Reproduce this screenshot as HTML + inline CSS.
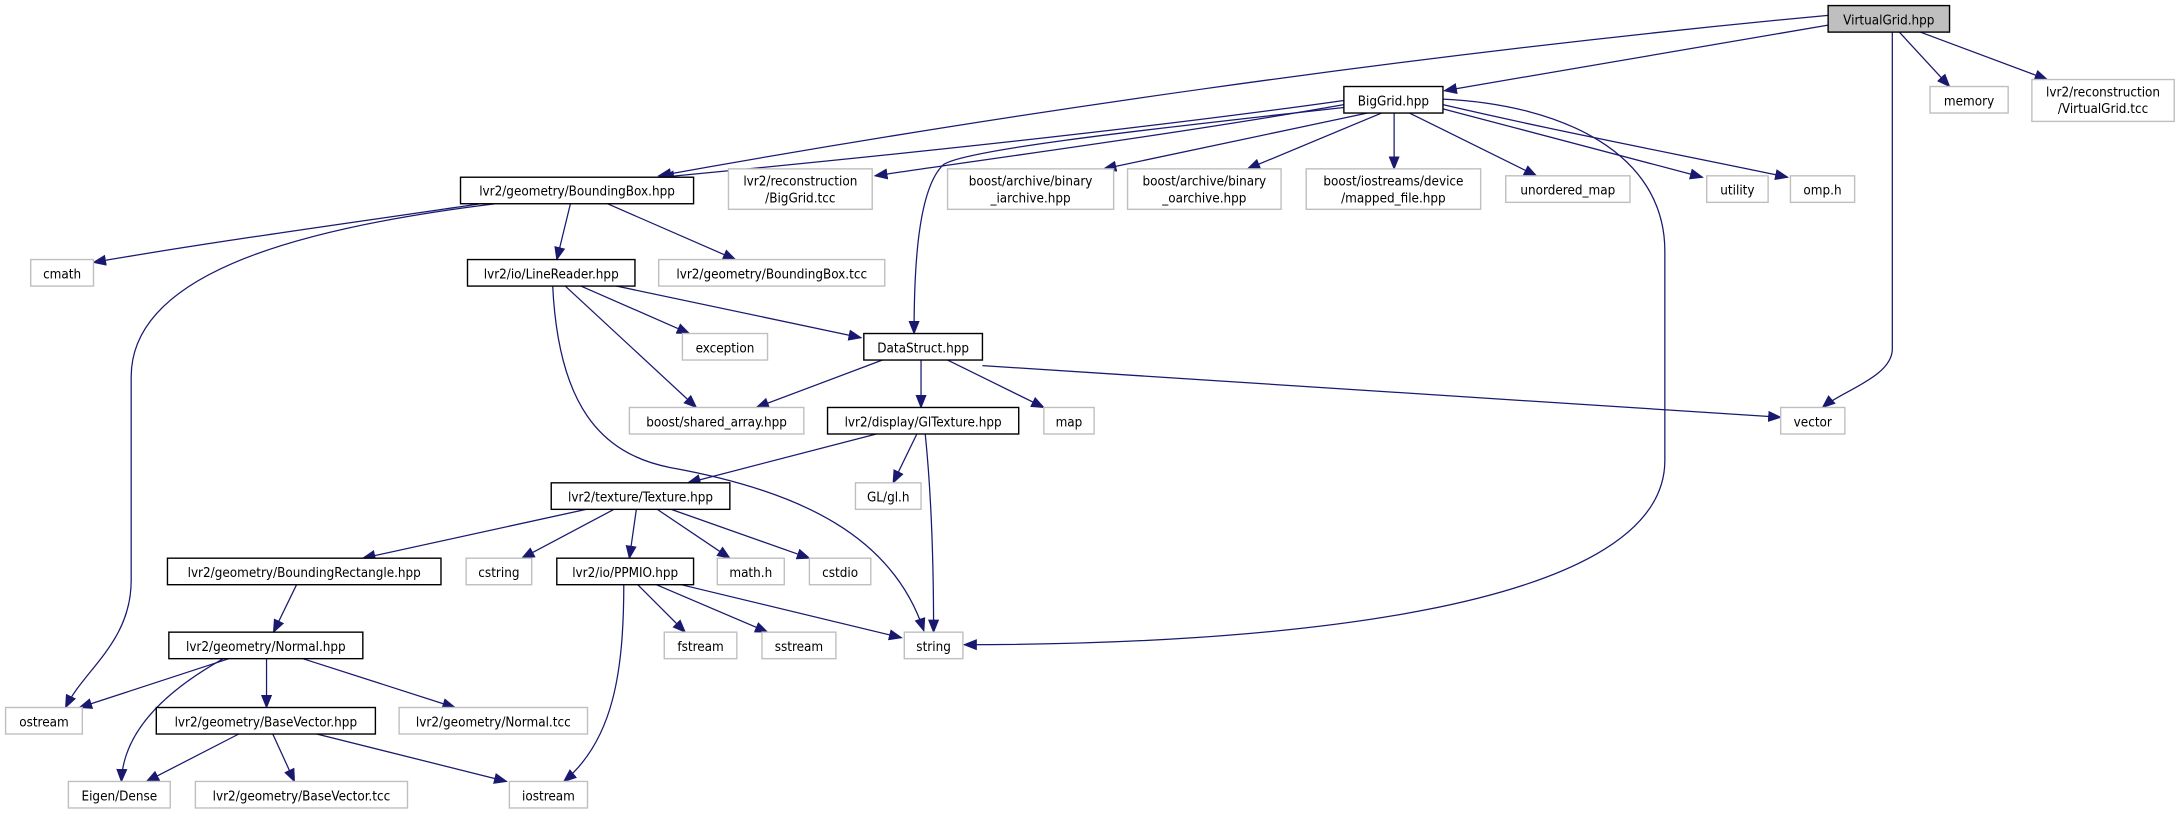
<!DOCTYPE html>
<html><head><meta charset="utf-8"><style>
html,body{margin:0;padding:0;background:#fff;}
svg{display:block;}
text{font-family:"DejaVu Sans Condensed","DejaVu Sans","Liberation Sans",sans-serif;font-size:9.6px;fill:#000;text-anchor:middle;}
.g{fill:#fff;stroke:#bfbfbf;stroke-width:1;}
.b{fill:#fff;stroke:#000;stroke-width:1;}
.e{fill:none;stroke:#191970;stroke-width:0.9;marker-end:url(#a);}
</style></head><body>
<svg width="2177" height="813" viewBox="0 0 1560 582.6" preserveAspectRatio="none" xmlns="http://www.w3.org/2000/svg">
<defs><marker id="a" markerWidth="10" markerHeight="8" refX="9" refY="4" orient="auto" markerUnits="userSpaceOnUse"><path d="M0,0 L10,4 L0,8 z" fill="#191970"/></marker></defs>

<!-- edges -->
<path class="e" d="M1310,11 C1000,40 700,85 472,126"/>
<path class="e" d="M1310,18 L1035,65"/>
<path class="e" d="M1361,23 L1397,62"/>
<path class="e" d="M1376,23 L1467,57"/>
<path class="e" d="M1356,23 L1356,250 C1356,270 1320,280 1306,292"/>

<path class="e" d="M963,72 C800,95 600,115 474,127"/>
<path class="e" d="M963,75 C850,95 700,115 627,126"/>
<path class="e" d="M963,77 C800,95 690,108 676,118 C658,135 655,190 655,239"/>
<path class="e" d="M980,81 L791,121"/>
<path class="e" d="M990,81 L894,121"/>
<path class="e" d="M999,81 L999,121"/>
<path class="e" d="M1010,81 L1101,126"/>
<path class="e" d="M1034,78 L1220,127"/>
<path class="e" d="M1034,75 C1120,95 1200,110 1281,127"/>
<path class="e" d="M1034,71 C1120,75 1193,110 1193,180 L1193,330 C1193,440 900,462 691,462"/>

<path class="e" d="M351,145 C250,160 160,172 67,188"/>
<path class="e" d="M355,146 C200,165 94,200 94,270 L94,416 C94,460 60,480 47,507"/>
<path class="e" d="M409,145 L399,186"/>
<path class="e" d="M433,145 L527,186"/>

<path class="e" d="M414,204 L494,239"/>
<path class="e" d="M437,204 L617,242"/>
<path class="e" d="M404,204 L499,292"/>
<path class="e" d="M396,204 C400,290 430,325 480,335 C575,352 640,385 662,452"/>

<path class="e" d="M635,257 L542,292"/>
<path class="e" d="M660,257 L660,292"/>
<path class="e" d="M677,257 L748,292"/>
<path class="e" d="M704,262 L1276,299"/>

<path class="e" d="M628,311 L493,346"/>
<path class="e" d="M657,311 L640,346"/>
<path class="e" d="M663,311 C668,360 669,410 669,453"/>

<path class="e" d="M420,365 L260,400"/>
<path class="e" d="M440,365 L374,400"/>
<path class="e" d="M456,365 L451,400"/>
<path class="e" d="M471,365 L523,400"/>
<path class="e" d="M481,365 L580,400"/>

<path class="e" d="M213,418 L196,453"/>

<path class="e" d="M456,418 L491,453"/>
<path class="e" d="M468,418 L550,453"/>
<path class="e" d="M484,418 L646,457"/>
<path class="e" d="M447,418 C447,480 440,530 404,560"/>

<path class="e" d="M164,472 L57,507"/>
<path class="e" d="M160,472 C110,500 88,530 87,560"/>
<path class="e" d="M191,472 L191,507"/>
<path class="e" d="M217,472 L326,507"/>

<path class="e" d="M173,525 L105,560"/>
<path class="e" d="M195,525 L211,560"/>
<path class="e" d="M223,525 L363,560"/>

<!-- nodes -->
<rect x="1310" y="4" width="87" height="19" fill="#bfbfbf" stroke="#000"/><text x="1353.5" y="17.5">VirtualGrid.hpp</text>
<rect class="b" x="963" y="62" width="71" height="19"/><text x="998.5" y="75.5">BigGrid.hpp</text>
<rect class="g" x="1383" y="62" width="56" height="19"/><text x="1411" y="75.5">memory</text>
<rect class="g" x="1456" y="57" width="102" height="30"/><text x="1507" y="69">lvr2/reconstruction</text><text x="1507" y="81">/VirtualGrid.tcc</text>

<rect class="b" x="330" y="127" width="167" height="19"/><text x="413.5" y="140">lvr2/geometry/BoundingBox.hpp</text>
<rect class="g" x="522" y="121" width="103" height="29"/><text x="573.5" y="133">lvr2/reconstruction</text><text x="573.5" y="145">/BigGrid.tcc</text>
<rect class="g" x="679" y="121" width="119" height="29"/><text x="738.5" y="133">boost/archive/binary</text><text x="738.5" y="145">_iarchive.hpp</text>
<rect class="g" x="808" y="121" width="110" height="29"/><text x="863" y="133">boost/archive/binary</text><text x="863" y="145">_oarchive.hpp</text>
<rect class="g" x="936" y="121" width="125" height="29"/><text x="998.5" y="133">boost/iostreams/device</text><text x="998.5" y="145">/mapped_file.hpp</text>
<rect class="g" x="1079" y="126" width="89" height="19"/><text x="1123.5" y="139.5">unordered_map</text>
<rect class="g" x="1223" y="126" width="44" height="19"/><text x="1245" y="139.5">utility</text>
<rect class="g" x="1283" y="126" width="46" height="19"/><text x="1306" y="139.5">omp.h</text>

<rect class="g" x="22" y="186" width="45" height="19"/><text x="44.5" y="199.5">cmath</text>
<rect class="b" x="335" y="186" width="120" height="19"/><text x="395" y="199.5">lvr2/io/LineReader.hpp</text>
<rect class="g" x="472" y="186" width="162" height="19"/><text x="553" y="199.5">lvr2/geometry/BoundingBox.tcc</text>

<rect class="g" x="489" y="239" width="61" height="19"/><text x="519.5" y="252.5">exception</text>
<rect class="b" x="619" y="239" width="85" height="19"/><text x="661.5" y="252.5">DataStruct.hpp</text>

<rect class="g" x="451" y="292" width="125" height="19"/><text x="513.5" y="305.5">boost/shared_array.hpp</text>
<rect class="b" x="593" y="292" width="137" height="19"/><text x="661.5" y="305.5">lvr2/display/GlTexture.hpp</text>
<rect class="g" x="748" y="292" width="36" height="19"/><text x="766" y="305.5">map</text>
<rect class="g" x="1276" y="292" width="46" height="19"/><text x="1299" y="305.5">vector</text>

<rect class="b" x="395" y="346" width="128" height="19"/><text x="459" y="359.5">lvr2/texture/Texture.hpp</text>
<rect class="g" x="613" y="346" width="47" height="19"/><text x="636.5" y="359.5">GL/gl.h</text>

<rect class="b" x="120" y="400" width="196" height="19"/><text x="218" y="413.5">lvr2/geometry/BoundingRectangle.hpp</text>
<rect class="g" x="334" y="400" width="47" height="19"/><text x="357.5" y="413.5">cstring</text>
<rect class="b" x="399" y="400" width="98" height="19"/><text x="448" y="413.5">lvr2/io/PPMIO.hpp</text>
<rect class="g" x="514" y="400" width="48" height="19"/><text x="538" y="413.5">math.h</text>
<rect class="g" x="580" y="400" width="44" height="19"/><text x="602" y="413.5">cstdio</text>

<rect class="b" x="121" y="453" width="139" height="19"/><text x="190.5" y="466.5">lvr2/geometry/Normal.hpp</text>
<rect class="g" x="476" y="453" width="52" height="19"/><text x="502" y="466.5">fstream</text>
<rect class="g" x="546" y="453" width="53" height="19"/><text x="572.5" y="466.5">sstream</text>
<rect class="g" x="648" y="453" width="42" height="19"/><text x="669" y="466.5">string</text>

<rect class="g" x="4" y="507" width="55" height="19"/><text x="31.5" y="520.5">ostream</text>
<rect class="b" x="112" y="507" width="157" height="19"/><text x="190.5" y="520.5">lvr2/geometry/BaseVector.hpp</text>
<rect class="g" x="286" y="507" width="135" height="19"/><text x="353.5" y="520.5">lvr2/geometry/Normal.tcc</text>

<rect class="g" x="49" y="560" width="73" height="19"/><text x="85.5" y="573.5">Eigen/Dense</text>
<rect class="g" x="140" y="560" width="152" height="19"/><text x="216" y="573.5">lvr2/geometry/BaseVector.tcc</text>
<rect class="g" x="365" y="560" width="56" height="19"/><text x="393" y="573.5">iostream</text>
</svg>
</body></html>
